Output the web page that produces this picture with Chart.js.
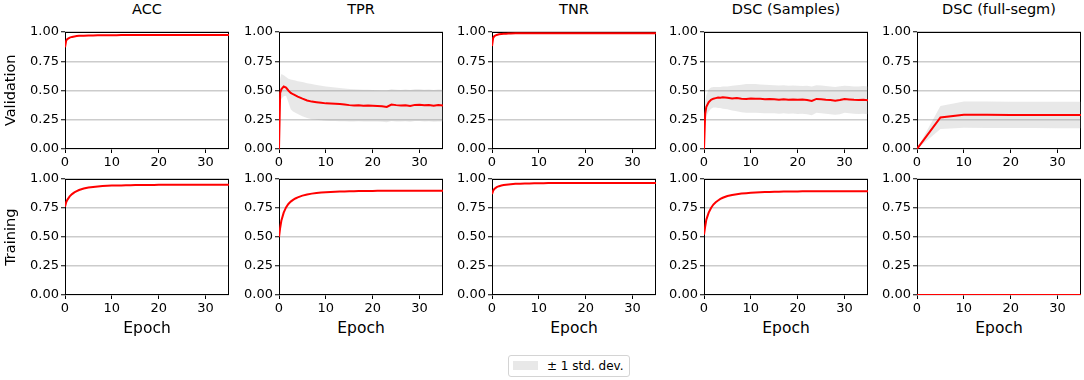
<!DOCTYPE html>
<html>
<head>
<meta charset="utf-8">
<script src="https://cdn.jsdelivr.net/npm/chart.js@4.4.0/dist/chart.umd.min.js"></script>
<style>
  body { margin: 0; background: #fff; width: 1084px; height: 380px; position: relative; overflow: hidden;
         font-family: "DejaVu Sans", sans-serif; color: #000; }
  .panel { position: absolute; }
  .title { position: absolute; width: 164px; text-align: center; font-size: 14.5px; line-height: 14.5px; white-space: nowrap; }
  .ylab { position: absolute; width: 200px; text-align: center; font-size: 14.5px; line-height: 14.5px;
          transform: rotate(-90deg); white-space: nowrap; }
  .xlab { position: absolute; width: 164px; text-align: center; font-size: 15.5px; line-height: 15.5px; }
  .legend { position: absolute; left: 508px; top: 355px; width: 120px; height: 20px; border: 1px solid #d4d4d4;
            border-radius: 3px; }
  .legend .patch { position: absolute; left: 4px; top: 5px; width: 25px; height: 9px; background: #e8e8e8; }
  .legend .txt { position: absolute; left: 38px; top: 3px; font-size: 12px; line-height: 14px; white-space: nowrap; }
</style>
</head>
<body>
<div class="legend"><div class="patch"></div><div class="txt" id="legendText"></div></div>
<script>
// epochs used by the per-epoch curves
const epochs = [0, 0.25, 0.5, 1, 1.5, 2, 2.5, 3, 3.5, 4,
  5, 6, 7, 8, 9, 10, 11, 12, 13, 14,
  15, 16, 17, 18, 19, 20, 21, 22, 23, 24,
  25, 26, 27, 28, 29, 30, 31, 32, 33, 34, 35];
// full segmentation is only evaluated every 5 epochs
const fullEpochs = [0, 5, 10, 15, 20, 25, 30, 35];

const xTicks = [0, 10, 20, 30];
const yTicks = [0, 0.25, 0.5, 0.75, 1];
const titles = ['ACC', 'TPR', 'TNR', 'DSC (Samples)', 'DSC (full-segm)'];
const rowLabels = ['Validation', 'Training'];
const xLabel = 'Epoch';
const bandLabel = '± 1 std. dev.';

// validation
const accVal = [0.87, 0.925, 0.94, 0.952, 0.958, 0.962, 0.965, 0.967, 0.968, 0.969,
  0.970, 0.971, 0.972, 0.972, 0.973, 0.973, 0.973, 0.974, 0.974, 0.974,
  0.974, 0.974, 0.974, 0.974, 0.974, 0.974, 0.974, 0.974, 0.974, 0.974,
  0.974, 0.974, 0.974, 0.974, 0.974, 0.974, 0.974, 0.974, 0.974, 0.974, 0.974];
const tprVal = [0.0, 0.48, 0.51, 0.535, 0.525, 0.50, 0.48, 0.468, 0.458, 0.448,
  0.43, 0.415, 0.405, 0.40, 0.395, 0.39, 0.388, 0.386, 0.384, 0.380,
  0.375, 0.372, 0.374, 0.370, 0.372, 0.370, 0.368, 0.366, 0.360, 0.380,
  0.375, 0.371, 0.374, 0.368, 0.377, 0.379, 0.374, 0.376, 0.370, 0.375, 0.372];
const tprValUpper = [0.0, 0.60, 0.64, 0.63, 0.615, 0.60, 0.595, 0.59, 0.585, 0.58,
  0.572, 0.563, 0.555, 0.547, 0.541, 0.535, 0.530, 0.525, 0.521, 0.517,
  0.513, 0.511, 0.509, 0.506, 0.506, 0.504, 0.502, 0.501, 0.499, 0.510,
  0.506, 0.505, 0.508, 0.505, 0.510, 0.510, 0.506, 0.508, 0.505, 0.509, 0.506];
const tprValLower = [0.0, 0.38, 0.43, 0.45, 0.455, 0.40, 0.34, 0.32, 0.31, 0.30,
  0.28, 0.265, 0.255, 0.25, 0.245, 0.242, 0.240, 0.239, 0.238, 0.237,
  0.236, 0.236, 0.237, 0.235, 0.236, 0.234, 0.234, 0.232, 0.228, 0.240,
  0.236, 0.235, 0.238, 0.233, 0.239, 0.240, 0.236, 0.238, 0.232, 0.236, 0.234];
const tnrVal = [0.88, 0.95, 0.965, 0.975, 0.98, 0.983, 0.985, 0.986, 0.987, 0.988,
  0.989, 0.989, 0.99, 0.99, 0.99, 0.99, 0.99, 0.99, 0.99, 0.99,
  0.99, 0.99, 0.99, 0.99, 0.99, 0.99, 0.99, 0.99, 0.99, 0.99,
  0.99, 0.99, 0.99, 0.99, 0.99, 0.99, 0.99, 0.99, 0.99, 0.99, 0.99];
const dscVal = [0.0, 0.30, 0.36, 0.40, 0.42, 0.43, 0.435, 0.44, 0.438, 0.442,
  0.438, 0.432, 0.435, 0.430, 0.428, 0.432, 0.430, 0.430, 0.426, 0.428,
  0.425, 0.422, 0.426, 0.422, 0.424, 0.420, 0.422, 0.418, 0.410, 0.428,
  0.425, 0.420, 0.418, 0.412, 0.418, 0.428, 0.424, 0.420, 0.418, 0.420, 0.416];
const dscValUpper = [0.0, 0.40, 0.46, 0.51, 0.525, 0.53, 0.53, 0.53, 0.53, 0.535,
  0.535, 0.54, 0.545, 0.55, 0.555, 0.555, 0.555, 0.552, 0.55, 0.548,
  0.545, 0.542, 0.545, 0.54, 0.542, 0.54, 0.538, 0.54, 0.535, 0.545,
  0.542, 0.538, 0.535, 0.53, 0.536, 0.54, 0.538, 0.535, 0.535, 0.538, 0.535];
const dscValLower = [0.0, 0.22, 0.28, 0.32, 0.345, 0.355, 0.355, 0.35, 0.35, 0.345,
  0.34, 0.33, 0.322, 0.315, 0.31, 0.31, 0.31, 0.308, 0.305, 0.306,
  0.305, 0.302, 0.305, 0.302, 0.304, 0.30, 0.302, 0.298, 0.288, 0.31,
  0.305, 0.302, 0.298, 0.292, 0.298, 0.31, 0.306, 0.302, 0.30, 0.302, 0.298];
const fullVal = [0.0, 0.27, 0.293, 0.292, 0.291, 0.291, 0.29, 0.29];
const fullValUpper = [0.0, 0.368, 0.405, 0.405, 0.404, 0.404, 0.403, 0.403];
const fullValLower = [0.0, 0.172, 0.181, 0.18, 0.179, 0.179, 0.178, 0.178];

// training
const accTrain = [0.76, 0.80, 0.82, 0.85, 0.87, 0.885, 0.895, 0.905, 0.912, 0.918,
  0.926, 0.932, 0.936, 0.939, 0.941, 0.943, 0.944, 0.945, 0.946, 0.947,
  0.948, 0.948, 0.949, 0.949, 0.949, 0.95, 0.95, 0.95, 0.95, 0.95,
  0.95, 0.95, 0.95, 0.95, 0.95, 0.95, 0.95, 0.95, 0.95, 0.95, 0.95];
const tprTrain = [0.50, 0.58, 0.64, 0.71, 0.755, 0.785, 0.805, 0.82, 0.832, 0.842,
  0.857, 0.867, 0.874, 0.879, 0.883, 0.886, 0.888, 0.89, 0.892, 0.893,
  0.894, 0.895, 0.896, 0.896, 0.897, 0.897, 0.898, 0.898, 0.898, 0.898,
  0.899, 0.899, 0.899, 0.899, 0.899, 0.899, 0.899, 0.899, 0.899, 0.899, 0.899];
const tnrTrain = [0.87, 0.90, 0.915, 0.93, 0.938, 0.944, 0.948, 0.951, 0.953, 0.955,
  0.958, 0.96, 0.961, 0.962, 0.963, 0.964, 0.964, 0.965, 0.965, 0.965,
  0.966, 0.966, 0.966, 0.966, 0.966, 0.966, 0.966, 0.966, 0.966, 0.966,
  0.966, 0.966, 0.966, 0.966, 0.966, 0.966, 0.966, 0.966, 0.966, 0.966, 0.966];
const dscTrain = [0.52, 0.59, 0.65, 0.71, 0.75, 0.78, 0.80, 0.815, 0.828, 0.838,
  0.853, 0.862, 0.869, 0.874, 0.878, 0.881, 0.884, 0.886, 0.888, 0.889,
  0.89, 0.891, 0.892, 0.892, 0.893, 0.893, 0.894, 0.894, 0.894, 0.894,
  0.895, 0.895, 0.895, 0.895, 0.895, 0.895, 0.895, 0.895, 0.895, 0.895, 0.895];
const fullTrain = [0, 0, 0, 0, 0, 0, 0, 0];

// layout of the 2x5 grid (plot area boxes)
const colLeft = [65, 279, 492, 704, 917];
const rowTop = [32, 179];
const plotW = 164;
const plotH = [117, 116];
const padL = 50, padT = 10, padR = 8, axisH = 24;

const lineColor = '#ff0000';
const bandColor = 'rgba(150,150,150,0.22)';
const gridColor = '#cccccc';

const panels = [
  { row: 0, col: 0, x: epochs, mean: accVal },
  { row: 0, col: 1, x: epochs, mean: tprVal, upper: tprValUpper, lower: tprValLower },
  { row: 0, col: 2, x: epochs, mean: tnrVal },
  { row: 0, col: 3, x: epochs, mean: dscVal, upper: dscValUpper, lower: dscValLower },
  { row: 0, col: 4, x: fullEpochs, mean: fullVal, upper: fullValUpper, lower: fullValLower },
  { row: 1, col: 0, x: epochs, mean: accTrain },
  { row: 1, col: 1, x: epochs, mean: tprTrain },
  { row: 1, col: 2, x: epochs, mean: tnrTrain },
  { row: 1, col: 3, x: epochs, mean: dscTrain },
  { row: 1, col: 4, x: fullEpochs, mean: fullTrain }
];

function pts(xs, ys) { return xs.map((x, i) => ({ x: x, y: ys[i] })); }

// full box around the plot area, drawn under the curves
const frame = {
  id: 'frame',
  beforeDatasetsDraw(chart) {
    const a = chart.chartArea, c = chart.ctx;
    c.save();
    c.strokeStyle = '#000';
    c.lineWidth = 1;
    c.strokeRect(Math.round(a.left) + 0.5, Math.round(a.top) + 0.5,
      Math.round(a.right - a.left) - 1, Math.round(a.bottom - a.top) - 1);
    c.restore();
  }
};

function addDiv(cls, text, left, top) {
  const d = document.createElement('div');
  d.className = cls;
  d.textContent = text;
  d.style.left = left + 'px';
  d.style.top = top + 'px';
  document.body.appendChild(d);
  return d;
}

const tickFont = { family: 'DejaVu Sans', size: 13 };

panels.forEach(p => {
  const h = plotH[p.row];
  const canvas = document.createElement('canvas');
  canvas.className = 'panel';
  canvas.width = padL + plotW + padR;
  canvas.height = padT + h + axisH;
  canvas.style.left = (colLeft[p.col] - padL) + 'px';
  canvas.style.top = (rowTop[p.row] - padT) + 'px';
  document.body.appendChild(canvas);

  const datasets = [{
    data: pts(p.x, p.mean), borderColor: lineColor, borderWidth: 2,
    pointRadius: 0, fill: false, tension: 0
  }];
  if (p.upper) {
    datasets.push({ data: pts(p.x, p.upper), borderWidth: 0, pointRadius: 0,
      backgroundColor: bandColor, fill: '+1' });
    datasets.push({ data: pts(p.x, p.lower), borderWidth: 0, pointRadius: 0, fill: false });
  }

  new Chart(canvas.getContext('2d'), {
    type: 'line',
    data: { datasets: datasets },
    options: {
      responsive: false, animation: false, events: [],
      layout: { padding: { top: padT, right: padR, left: 0, bottom: 0 } },
      plugins: { legend: { display: false }, tooltip: { enabled: false } },
      scales: {
        x: {
          type: 'linear', min: 0, max: 35,
          afterBuildTicks: s => { s.ticks = xTicks.map(v => ({ value: v })); },
          afterFit: s => { s.height = axisH; },
          ticks: { font: tickFont, color: '#000', padding: 2, maxRotation: 0 },
          grid: { drawOnChartArea: false, drawTicks: true, tickLength: 4, tickColor: '#000', tickWidth: 1 },
          border: { display: false }
        },
        y: {
          type: 'linear', min: 0, max: 1,
          afterBuildTicks: s => { s.ticks = yTicks.map(v => ({ value: v })); },
          afterFit: s => { s.width = padL; },
          ticks: { font: tickFont, color: '#000', padding: 2, callback: v => v.toFixed(2) },
          grid: { color: gridColor, lineWidth: 1.5, drawTicks: true, tickLength: 4, tickColor: '#000', tickWidth: 1 },
          border: { display: false }
        }
      }
    },
    plugins: [frame]
  });
});

// titles, row labels, axis labels
titles.forEach((t, i) => addDiv('title', t, colLeft[i], 2));
rowLabels.forEach((t, r) => addDiv('ylab', t, 10 - 100, rowTop[r] + plotH[r] / 2 - 7.25));
colLeft.forEach(l => addDiv('xlab', xLabel, l, 321));
document.getElementById('legendText').textContent = bandLabel;
</script>
</body>
</html>
